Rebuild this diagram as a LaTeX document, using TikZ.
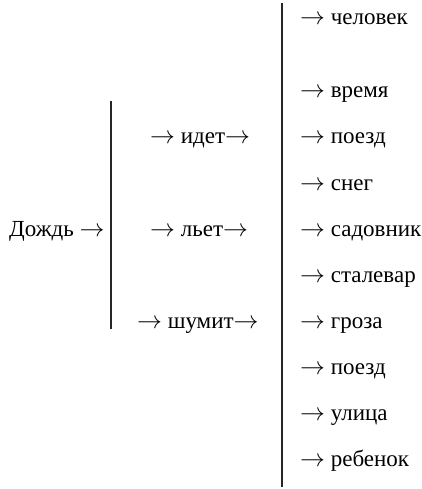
\documentclass[tikz,border=0pt]{standalone}
\usepackage{fontspec}
\setmainfont{Liberation Serif}
\begin{document}
\begin{tikzpicture}[x=1pt,y=-1pt,
  lbl/.style={anchor=base west,inner sep=0pt,font=\fontsize{23}{27}\selectfont},
  bar/.style={line width=1.3pt,draw=black!85}]
\useasboundingbox (0,0) rectangle (421,489);
\newcommand{\ar}{$\rightarrow$}
\node[lbl] (rain) at (9,236) {Дождь \ar};
\coordinate (l1) at (111,101);
\coordinate (l2) at (111,329);
\draw[bar] (l1) -- (l2);
\node[lbl] (v1) at (150,144) {\ar{} идет\ar};
\node[lbl] (v2) at (150,236) {\ar{} льет\ar};
\node[lbl] (v3) at (137,328) {\ar{} шумит\ar};
\coordinate (r1) at (282,3);
\coordinate (r2) at (282,487);
\draw[bar] (r1) -- (r2);
\node[lbl] (n1) at (300,25) {\ar{} человек};
\node[lbl] (n2) at (300,98) {\ar{} время};
\node[lbl] (n3) at (300,144) {\ar{} поезд};
\node[lbl] (n4) at (300,190) {\ar{} снег};
\node[lbl] (n5) at (300,236) {\ar{} садовник};
\node[lbl] (n6) at (300,282) {\ar{} сталевар};
\node[lbl] (n7) at (300,328) {\ar{} гроза};
\node[lbl] (n8) at (300,374) {\ar{} поезд};
\node[lbl] (n9) at (300,420) {\ar{} улица};
\node[lbl] (n10) at (300,466) {\ar{} ребенок};
\end{tikzpicture}
\end{document}
